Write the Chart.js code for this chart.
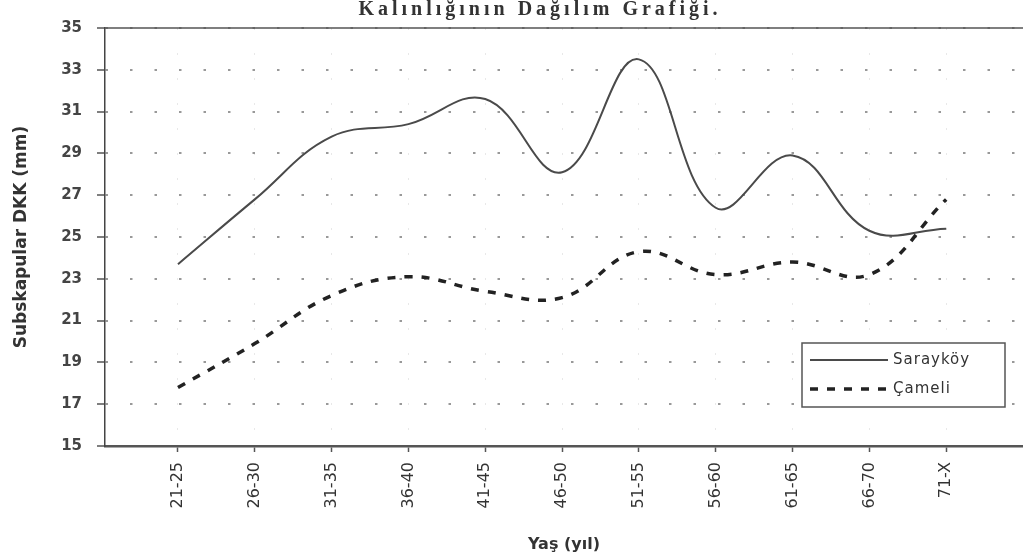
<!DOCTYPE html>
<html>
<head>
<meta charset="utf-8">
<script src="https://cdn.jsdelivr.net/npm/chart.js@4/dist/chart.umd.min.js"></script>
<style>
  html, body { margin: 0; padding: 0; background: #fff; }
  #wrap { width: 1023px; height: 555px; position: relative; }
</style>
</head>
<body>
<div id="wrap"><canvas id="chart"></canvas></div>
<script>
const ageGroups = ['21-25', '26-30', '31-35', '36-40', '41-45', '46-50', '51-55', '56-60', '61-65', '66-70', '71-X'];
const saraykoy = [23.7, 26.8, 29.8, 30.4, 31.6, 28.1, 33.5, 26.4, 28.9, 25.3, 25.4];
const cameli = [17.8, 19.9, 22.2, 23.1, 22.4, 22.1, 24.3, 23.2, 23.8, 23.2, 26.8];
const yTicks = { min: 15, max: 35, step: 2 };
const titleText = 'Kalınlığının Dağılım Grafiği.';

const toPoints = (arr) => arr.map((v, i) => ({ x: i, y: v }));

// title (partly cut at top in the scan) + solid top frame + boxed legend
const extras = {
    id: 'extras',
    afterDraw(chart) {
        const { ctx, chartArea: a } = chart;
        ctx.save();
        // top frame line
        ctx.strokeStyle = '#555';
        ctx.lineWidth = 1.5;
        ctx.beginPath();
        ctx.moveTo(a.left, a.top);
        ctx.lineTo(a.right, a.top);
        ctx.stroke();

        // title
        ctx.fillStyle = '#333';
        ctx.font = 'bold 20px "Liberation Serif"';
        ctx.letterSpacing = '4px';
        ctx.textAlign = 'center';
        ctx.textBaseline = 'alphabetic';
        ctx.fillText(titleText, 540, 15);
        ctx.letterSpacing = '0px';

        // legend box
        const w = 203, h = 64;
        const x = a.right - 18 - w, y = a.bottom - 39 - h;
        ctx.fillStyle = '#fff';
        ctx.fillRect(x, y, w, h);
        ctx.strokeStyle = '#555';
        ctx.lineWidth = 1.5;
        ctx.strokeRect(x, y, w, h);
        ctx.font = '15px "DejaVu Sans"';
        ctx.letterSpacing = '1px';
        ctx.textAlign = 'left';
        ctx.textBaseline = 'middle';
        chart.data.datasets.forEach((ds, i) => {
            const ry = y + 17 + i * 29;
            ctx.strokeStyle = ds.borderColor;
            ctx.lineWidth = ds.borderWidth;
            ctx.setLineDash(ds.borderDash || []);
            ctx.beginPath();
            ctx.moveTo(x + 8, ry);
            ctx.lineTo(x + 86, ry);
            ctx.stroke();
            ctx.setLineDash([]);
            ctx.fillStyle = '#333';
            ctx.fillText(ds.label, x + 91, ry);
        });
        ctx.restore();
    }
};

new Chart(document.getElementById('chart'), {
    type: 'line',
    data: {
        datasets: [
            {
                label: 'Sarayköy',
                data: toPoints(saraykoy),
                borderColor: '#4a4a4a',
                borderWidth: 2,
                tension: 0.4,
                pointRadius: 0,
                fill: false
            },
            {
                label: 'Çameli',
                data: toPoints(cameli),
                borderColor: '#222',
                borderWidth: 3.5,
                borderDash: [8, 9],
                tension: 0.4,
                pointRadius: 0,
                fill: false
            }
        ]
    },
    options: {
        responsive: true,
        maintainAspectRatio: false,
        animation: false,
        layout: { padding: { top: 28, right: 0, bottom: 0, left: 0 } },
        plugins: {
            legend: { display: false },
            title: { display: false },
            tooltip: { enabled: false }
        },
        scales: {
            x: {
                type: 'linear',
                min: -0.95,
                max: 11,
                afterBuildTicks: (scale) => {
                    scale.ticks = ageGroups.map((_, i) => ({ value: i }));
                },
                afterFit: (scale) => { scale.height = 109; },
                ticks: {
                    autoSkip: false,
                    minRotation: 90,
                    maxRotation: 90,
                    padding: 10,
                    color: '#333',
                    font: { family: 'DejaVu Sans', size: 16 },
                    callback: (v) => ageGroups[v] ?? ''
                },
                grid: {
                    color: 'rgba(0,0,0,0.09)',
                    tickColor: '#555',
                    tickLength: 6,
                    tickWidth: 1.5
                },
                border: { color: '#555', width: 2.5, dash: [2, 23] },
                title: {
                    display: true,
                    text: 'Yaş (yıl)',
                    color: '#333',
                    font: { family: 'DejaVu Sans', size: 16, weight: 'bold' },
                    padding: { top: 0, bottom: 1 }
                }
            },
            y: {
                min: yTicks.min,
                max: yTicks.max,
                afterFit: (scale) => { scale.width = 105; },
                ticks: {
                    stepSize: yTicks.step,
                    padding: 15,
                    color: '#444',
                    font: { family: 'DejaVu Sans', size: 15, weight: 'bold' }
                },
                grid: {
                    color: '#999',
                    lineWidth: 2,
                    tickColor: '#555',
                    tickLength: 8,
                    tickWidth: 1.5
                },
                border: { color: '#444', width: 1.5, dash: [2.5, 22] },
                title: {
                    display: true,
                    text: 'Subskapular DKK (mm)',
                    color: '#333',
                    font: { family: 'DejaVu Sans', size: 17, weight: 'bold' },
                    padding: { top: 11, bottom: 0 }
                }
            }
        }
    },
    plugins: [extras]
});
</script>
</body>
</html>
